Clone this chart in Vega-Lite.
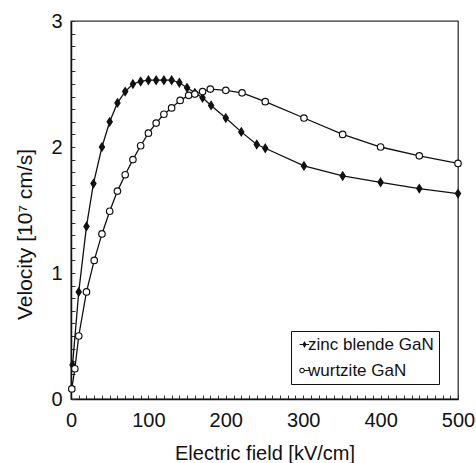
{
  "$schema": "https://vega.github.io/schema/vega-lite/v6.json",
  "width": 387,
  "height": 378,
  "autosize": "none",
  "padding": {"left": 71, "top": 21, "right": 18, "bottom": 64},
  "background": "white",
  "config": {
    "font": "Liberation Sans",
    "view": {"stroke": "#333", "strokeWidth": 1.3},
    "axis": {
      "grid": false,
      "domainColor": "#111",
      "domainWidth": 1.5,
      "tickColor": "#333",
      "tickWidth": 1,
      "tickSize": -4,
      "labelColor": "#111",
      "titleColor": "#111",
      "labelFontSize": 20,
      "titleFontSize": 20,
      "titleFontWeight": "normal",
      "labelOverlap": false,
      "labelBound": false,
      "labelFlush": false
    }
  },
  "data": {
    "values": [
      {"series": "zinc blende GaN", "E": 2, "v": 0.27},
      {"series": "zinc blende GaN", "E": 10, "v": 0.85},
      {"series": "zinc blende GaN", "E": 20, "v": 1.37},
      {"series": "zinc blende GaN", "E": 29, "v": 1.71},
      {"series": "zinc blende GaN", "E": 40, "v": 2.0},
      {"series": "zinc blende GaN", "E": 50, "v": 2.2},
      {"series": "zinc blende GaN", "E": 60, "v": 2.35},
      {"series": "zinc blende GaN", "E": 70, "v": 2.44},
      {"series": "zinc blende GaN", "E": 80, "v": 2.5},
      {"series": "zinc blende GaN", "E": 90, "v": 2.52},
      {"series": "zinc blende GaN", "E": 100, "v": 2.53},
      {"series": "zinc blende GaN", "E": 110, "v": 2.53},
      {"series": "zinc blende GaN", "E": 120, "v": 2.53},
      {"series": "zinc blende GaN", "E": 130, "v": 2.53},
      {"series": "zinc blende GaN", "E": 140, "v": 2.51},
      {"series": "zinc blende GaN", "E": 150, "v": 2.47},
      {"series": "zinc blende GaN", "E": 160, "v": 2.43},
      {"series": "zinc blende GaN", "E": 170, "v": 2.39},
      {"series": "zinc blende GaN", "E": 181, "v": 2.33},
      {"series": "zinc blende GaN", "E": 200, "v": 2.23},
      {"series": "zinc blende GaN", "E": 220, "v": 2.12},
      {"series": "zinc blende GaN", "E": 240, "v": 2.02},
      {"series": "zinc blende GaN", "E": 251, "v": 1.99},
      {"series": "zinc blende GaN", "E": 301, "v": 1.85},
      {"series": "zinc blende GaN", "E": 351, "v": 1.77},
      {"series": "zinc blende GaN", "E": 400, "v": 1.72},
      {"series": "zinc blende GaN", "E": 450, "v": 1.67},
      {"series": "zinc blende GaN", "E": 500, "v": 1.63},
      {"series": "wurtzite GaN", "E": 1, "v": 0.08},
      {"series": "wurtzite GaN", "E": 5, "v": 0.24},
      {"series": "wurtzite GaN", "E": 10, "v": 0.5},
      {"series": "wurtzite GaN", "E": 20, "v": 0.85},
      {"series": "wurtzite GaN", "E": 30, "v": 1.1},
      {"series": "wurtzite GaN", "E": 40, "v": 1.31},
      {"series": "wurtzite GaN", "E": 50, "v": 1.49},
      {"series": "wurtzite GaN", "E": 60, "v": 1.65},
      {"series": "wurtzite GaN", "E": 70, "v": 1.78},
      {"series": "wurtzite GaN", "E": 80, "v": 1.9},
      {"series": "wurtzite GaN", "E": 90, "v": 2.01},
      {"series": "wurtzite GaN", "E": 100, "v": 2.11},
      {"series": "wurtzite GaN", "E": 110, "v": 2.19},
      {"series": "wurtzite GaN", "E": 120, "v": 2.26},
      {"series": "wurtzite GaN", "E": 130, "v": 2.31},
      {"series": "wurtzite GaN", "E": 141, "v": 2.37},
      {"series": "wurtzite GaN", "E": 152, "v": 2.41},
      {"series": "wurtzite GaN", "E": 160, "v": 2.42},
      {"series": "wurtzite GaN", "E": 170, "v": 2.44},
      {"series": "wurtzite GaN", "E": 180, "v": 2.46},
      {"series": "wurtzite GaN", "E": 200, "v": 2.45},
      {"series": "wurtzite GaN", "E": 221, "v": 2.43},
      {"series": "wurtzite GaN", "E": 251, "v": 2.36},
      {"series": "wurtzite GaN", "E": 301, "v": 2.23},
      {"series": "wurtzite GaN", "E": 351, "v": 2.1},
      {"series": "wurtzite GaN", "E": 400, "v": 2.0},
      {"series": "wurtzite GaN", "E": 450, "v": 1.93},
      {"series": "wurtzite GaN", "E": 500, "v": 1.87}
    ]
  },
  "encoding": {
    "x": {
      "field": "E",
      "type": "quantitative",
      "scale": {"domain": [0, 500], "nice": false},
      "axis": {
        "title": "Electric field [kV/cm]",
        "values": [0,10,20,30,40,50,60,70,80,90,100,110,120,130,140,150,160,170,180,190,200,210,220,230,240,250,260,270,280,290,300,310,320,330,340,350,360,370,380,390,400,410,420,430,440,450,460,470,480,490,500],
        "labelExpr": "datum.value % 100 === 0 ? format(datum.value, 'd') : ''",
        "labelPadding": 15,
        "titlePadding": 13
      }
    },
    "y": {
      "field": "v",
      "type": "quantitative",
      "scale": {"domain": [0, 3], "nice": false},
      "axis": {
        "title": "Velocity [10⁷ cm/s]",
        "titleFontSize": 21,
        "titleX": -36,
        "titleY": 213,
        "values": [0,0.1,0.2,0.3,0.4,0.5,0.6,0.7,0.8,0.9,1,1.1,1.2,1.3,1.4,1.5,1.6,1.7,1.8,1.9,2,2.1,2.2,2.3,2.4,2.5,2.6,2.7,2.8,2.9,3],
        "labelExpr": "datum.value % 1 === 0 ? format(datum.value, 'd') : ''",
        "labelPadding": 13
      }
    }
  },
  "layer": [
    {
      "mark": {"type": "line", "color": "#111", "strokeWidth": 1.3},
      "encoding": {"detail": {"field": "series", "type": "nominal"}}
    },
    {
      "mark": {"type": "point", "stroke": "#111", "strokeWidth": 1.2, "opacity": 1, "size": 42},
      "encoding": {
        "shape": {
          "field": "series",
          "type": "nominal",
          "scale": {"domain": ["zinc blende GaN", "wurtzite GaN"], "range": ["M0,-1.25L0.8,0L0,1.25L-0.8,0Z", "circle"]},
          "legend": null
        },
        "fill": {
          "field": "series",
          "type": "nominal",
          "scale": {"domain": ["zinc blende GaN", "wurtzite GaN"], "range": ["#111", "white"]},
          "legend": null
        }
      }
    },
    {
      "transform": [{"filter": "datum.E < 0"}],
      "mark": {"type": "point", "filled": true, "fill": "#111", "opacity": 1},
      "encoding": {
        "shape": {
          "field": "series",
          "type": "nominal",
          "scale": {"domain": ["zinc blende GaN", "wurtzite GaN"], "range": ["M-1.4,-0.15H1.3V0.15H-1.4ZM0,-1L0.55,0L0,1L-0.55,0Z", "M0.1,0A0.8,0.8 0 1,1 -1.5,0A0.8,0.8 0 1,1 0.1,0ZM-0.2,0A0.5,0.5 0 1,0 -1.2,0A0.5,0.5 0 1,0 -0.2,0ZM0.1,-0.15H1.3V0.15H0.1Z"]},
          "legend": {
            "title": null,
            "orient": "none",
            "legendX": 220,
            "legendY": 310,
            "strokeColor": "#111",
            "fillColor": "white",
            "padding": 5,
            "labelFontSize": 17,
            "labelColor": "#111",
            "symbolSize": 49,
            "symbolFillColor": "#111",
            "symbolStrokeWidth": 0,
            "symbolOpacity": 1,
            "labelOffset": -5,
            "rowPadding": 8
          }
        }
      }
    }
  ],
  "resolve": {"scale": {"shape": "independent", "fill": "independent"}}
}
